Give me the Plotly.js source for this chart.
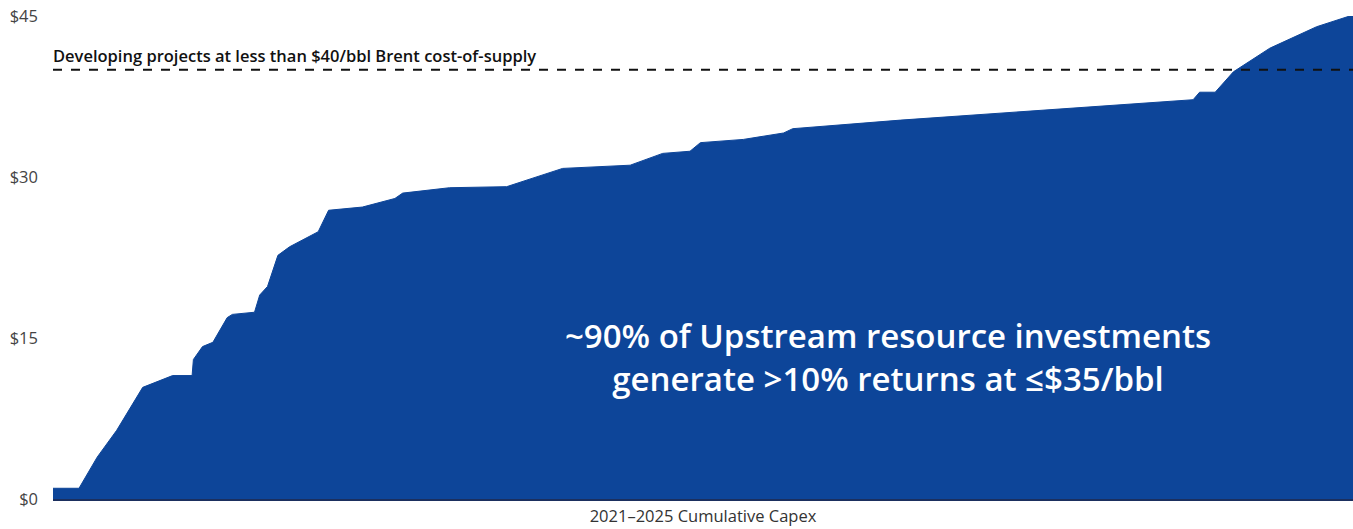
<!DOCTYPE html>
<html>
<head>
<meta charset="utf-8">
<script src="https://cdn.plot.ly/plotly-3.0.1.min.js"></script>
<style>html,body{margin:0;padding:0;background:#fff;}#chart{width:1353px;height:529px;}</style>
</head>
<body>
<div id="chart"></div>
<script>
// Cumulative capex share (%) and cost-of-supply ($/bbl)
const capexShare = [0, 2.0, 3.4, 4.9, 6.9, 9.2, 10.7, 10.8, 11.5, 12.3, 13.4, 13.8, 15.5, 15.9, 16.5, 17.3, 18.2, 20.4, 21.2, 23.8, 26.3, 26.9, 30.5, 34.9, 39.2, 44.4, 46.9, 49.0, 49.8, 53.1, 56.2, 56.9, 65.2, 87.7, 88.2, 89.4, 90.8, 93.6, 97.2, 100];
const costOfSupply = [1.0, 1.0, 3.9, 6.4, 10.4, 11.5, 11.5, 13.0, 14.2, 14.6, 16.9, 17.2, 17.4, 19.0, 19.8, 22.7, 23.5, 24.9, 26.9, 27.2, 28.0, 28.5, 29.0, 29.1, 30.8, 31.1, 32.2, 32.4, 33.2, 33.5, 34.1, 34.5, 35.3, 37.2, 37.9, 37.9, 39.8, 42.0, 44.0, 45.1];
const yTickVals = [0, 15, 30, 45];
const yTickText = ["$0", "$15", "$30", "$45"];
const thresholdValue = 40;
const thresholdLabel = "Developing projects at less than $40/bbl Brent cost-of-supply";
const xTitle = "2021–2025 Cumulative Capex";
const calloutText = "~90% of Upstream resource investments<br>generate >10% returns at ≤$35/bbl";

const trace = {
  x: capexShare,
  y: costOfSupply,
  type: 'scatter',
  mode: 'lines',
  fill: 'tozeroy',
  fillcolor: '#0D4599',
  line: {color: '#0D4599', width: 1, shape: 'linear'},
  hoverinfo: 'skip'
};

const layout = {
  width: 1353,
  height: 529,
  margin: {l: 53, r: 0, t: 16, b: 30},
  paper_bgcolor: '#ffffff',
  plot_bgcolor: '#ffffff',
  showlegend: false,
  font: {family: 'Open Sans, sans-serif'},
  xaxis: {
    range: [0, 100],
    showgrid: false,
    zeroline: false,
    showticklabels: false,
    ticks: '',
    showline: true,
    linecolor: '#1B2F5E',
    linewidth: 2,
    title: {text: xTitle, font: {size: 16.5, color: '#333333'}, standoff: 10}
  },
  yaxis: {
    range: [0, 45],
    tickvals: yTickVals,
    ticktext: yTickText,
    showgrid: false,
    zeroline: false,
    showline: false,
    ticks: '',
    ticklabelstandoff: 14,
    tickfont: {size: 16.5, color: '#444444'}
  },
  shapes: [{
    type: 'line', xref: 'x', yref: 'y',
    x0: 0, x1: 100, y0: thresholdValue, y1: thresholdValue,
    line: {color: '#111111', width: 2, dash: 'dash'},
    layer: 'above'
  }],
  annotations: [
    {
      x: 0, y: thresholdValue, xref: 'x', yref: 'y',
      xanchor: 'left', yanchor: 'bottom', yshift: 1, xshift: -2,
      text: thresholdLabel,
      showarrow: false,
      font: {size: 16.5, color: '#111111', family: 'Open Sans, sans-serif', weight: 600}
    },
    {
      x: 64.2, y: 13.2, xref: 'x', yref: 'y',
      xanchor: 'center', yanchor: 'middle',
      text: calloutText,
      showarrow: false,
      align: 'center',
      font: {size: 33, color: '#ffffff', family: 'Open Sans, sans-serif', weight: 600}
    }
  ]
};

Plotly.newPlot('chart', [trace], layout, {displayModeBar: false, staticPlot: true});
</script>
</body>
</html>
